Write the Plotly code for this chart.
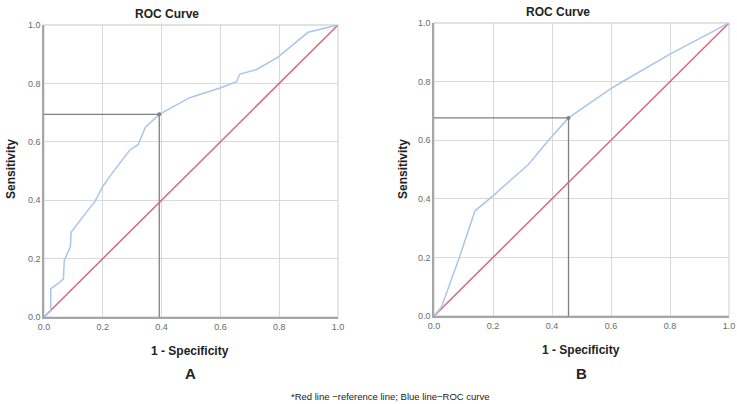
import plotly.graph_objects as go

# Panel A ROC curve
a_fpr = [0.0, 0.023, 0.023, 0.035, 0.066, 0.069, 0.09, 0.092, 0.145, 0.173, 0.2, 0.23,
         0.292, 0.32, 0.345, 0.392, 0.496, 0.604, 0.655, 0.666, 0.722, 0.796, 0.898, 1.0]
a_tpr = [0.0, 0.02, 0.097, 0.105, 0.13, 0.195, 0.24, 0.29, 0.36, 0.395, 0.447, 0.49,
         0.572, 0.59, 0.65, 0.694, 0.751, 0.786, 0.806, 0.832, 0.847, 0.89, 0.975, 1.0]
a_cut = (0.392, 0.694)

# Panel B ROC curve
b_fpr = [0.0, 0.025, 0.086, 0.139, 0.2, 0.32, 0.394, 0.456, 0.597, 0.643, 0.8, 1.0]
b_tpr = [0.0, 0.03, 0.2, 0.359, 0.41, 0.517, 0.607, 0.676, 0.774, 0.802, 0.894, 1.0]
b_cut = (0.456, 0.676)

ref = [0.0, 1.0]
ticks = [0.0, 0.2, 0.4, 0.6, 0.8, 1.0]
tick_text = ["0.0", "0.2", "0.4", "0.6", "0.8", "1.0"]

BLUE = "#a9c6ea"
RED = "#d9657f"
GRAY = "#808080"

fig = go.Figure()

for i, (fx, ty, cut) in enumerate([(a_fpr, a_tpr, a_cut), (b_fpr, b_tpr, b_cut)]):
    xa = "x" if i == 0 else "x2"
    ya = "y" if i == 0 else "y2"
    fig.add_trace(go.Scatter(x=[0, cut[0], cut[0]], y=[cut[1], cut[1], 0], mode="lines",
                             line=dict(color=GRAY, width=1.3), xaxis=xa, yaxis=ya, hoverinfo="skip"))
    fig.add_trace(go.Scatter(x=ref, y=ref, mode="lines", line=dict(color=RED, width=1.5),
                             xaxis=xa, yaxis=ya))
    fig.add_trace(go.Scatter(x=fx, y=ty, mode="lines", line=dict(color=BLUE, width=1.5),
                             xaxis=xa, yaxis=ya))
    fig.add_trace(go.Scatter(x=[cut[0]], y=[cut[1]], mode="markers",
                             marker=dict(color=GRAY, size=4), xaxis=xa, yaxis=ya))

axis_common = dict(range=[0, 1], tickvals=ticks, ticktext=tick_text, showgrid=True,
                   gridcolor="#d9d9d9", gridwidth=1.3, zeroline=False, showline=True,
                   linecolor="#a6a6a6", linewidth=1.5, mirror=False, ticks="",
                   automargin=False,
                   tickfont=dict(family="Liberation Sans, Arial", size=9, color="#6b6b6b"),
                   fixedrange=True)

fig.update_layout(
    width=737, height=404, margin=dict(l=0, r=0, t=0, b=0),
    paper_bgcolor="white", plot_bgcolor="white", showlegend=False,
    xaxis=dict(axis_common, domain=[44/737, 338/737], anchor="y"),
    yaxis=dict(axis_common, domain=[1-317/404, 1-25/404], anchor="x"),
    xaxis2=dict(axis_common, domain=[434/737, 729/737], anchor="y2"),
    yaxis2=dict(axis_common, domain=[1-316/404, 1-23/404], anchor="x2"),
)

# border on top/right
for xa, ya in [("x", "y"), ("x2", "y2")]:
    fig.add_shape(type="rect", xref=xa + " domain", yref=ya + " domain", x0=0, x1=1, y0=0, y1=1,
                  line=dict(color="#d9d9d9", width=1.3), layer="below")

font_b = "Liberation Sans, Arial"
ann = [
    dict(x=167, y=14, text="<b>ROC Curve</b>", size=12),
    dict(x=558, y=12, text="<b>ROC Curve</b>", size=12),
    dict(x=190, y=351, text="<b>1 - Specificity</b>", size=12),
    dict(x=581, y=350, text="<b>1 - Specificity</b>", size=12),
    dict(x=190, y=373, text="<b>A</b>", size=15),
    dict(x=581, y=373, text="<b>B</b>", size=15),
    dict(x=390, y=396, text="*Red line \u2212reference line; Blue line\u2212ROC curve", size=9.5),
]
for a in ann:
    fig.add_annotation(x=a["x"]/737, y=1-a["y"]/404, xref="paper", yref="paper",
                       text=a["text"], showarrow=False, xanchor="center", yanchor="middle",
                       font=dict(family=font_b, size=a["size"], color="#222222"))
for xpix in [11, 403]:
    fig.add_annotation(x=xpix/737, y=1-169/404, xref="paper", yref="paper", text="<b>Sensitivity</b>",
                       textangle=-90, showarrow=False, xanchor="center", yanchor="middle",
                       font=dict(family=font_b, size=12, color="#222222"))

fig.write_html("out.html", config={"displayModeBar": False},
               post_script="document.body.style.margin='0';document.body.style.padding='0';document.body.style.overflow='hidden';")
